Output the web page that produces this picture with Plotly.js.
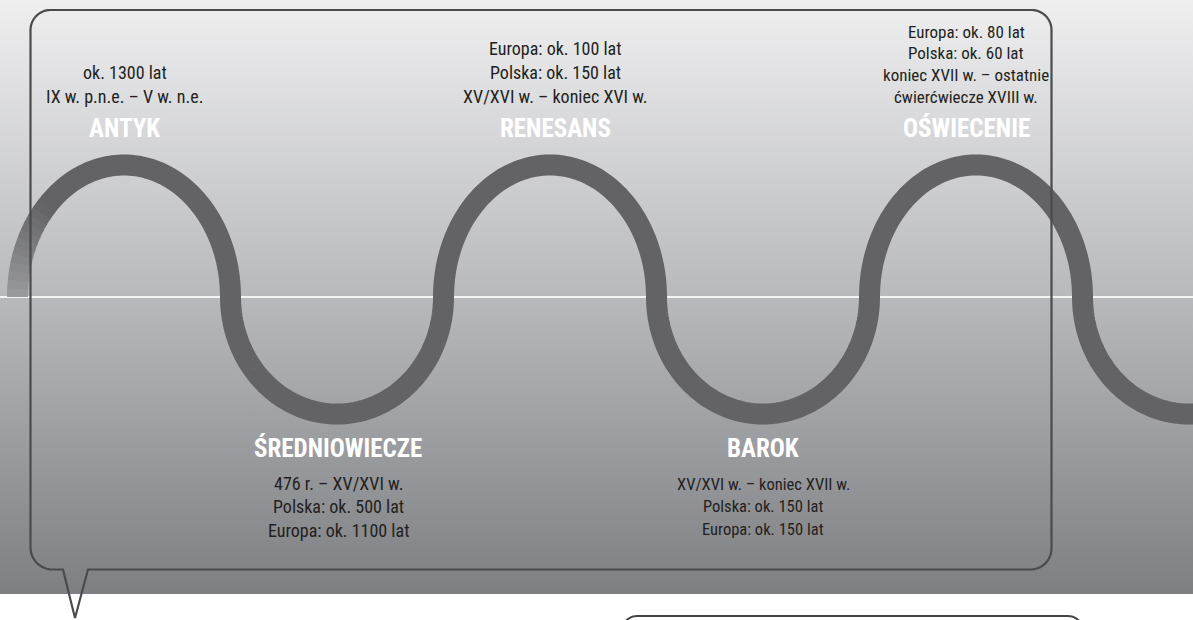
<!DOCTYPE html>
<html><head><meta charset="utf-8">
<script src="https://cdn.plot.ly/plotly-3.0.1.min.js"></script>
<style>html,body{margin:0;padding:0;background:#fff;overflow:hidden}#chart{width:1193px;height:620px}</style>
</head><body><div id="chart"></div>
<script>
// ---------- data ----------
const eras = ['ANTYK', 'ŚREDNIOWIECZE', 'RENESANS', 'BAROK', 'OŚWIECENIE'];
const eraSide = ['top', 'bottom', 'top', 'bottom', 'top'];
const eraNotes = [
  ['ok. 1300 lat', 'IX w. p.n.e. – V w. n.e.'],
  ['476 r. – XV/XVI w.', 'Polska: ok. 500 lat', 'Europa: ok. 1100 lat'],
  ['Europa: ok. 100 lat', 'Polska: ok. 150 lat', 'XV/XVI w. – koniec XVI w.'],
  ['XV/XVI w. – koniec XVII w.', 'Polska: ok. 150 lat', 'Europa: ok. 150 lat'],
  ['Europa: ok. 80 lat', 'Polska: ok. 60 lat', 'koniec XVII w. – ostatnie', 'ćwierćwiecze XVIII w.']
];

// ---------- layout geometry (pixels) ----------
const W = 1193, H = 620;
const PX0 = 124, STEP = 213, LINE_Y = 297;
const xd = px => (px - PX0) / STEP;
const yd = py => LINE_Y - py;
const TOP_H = 132, BOT_H = 117;
const labelDx = [0.5, 1.3, 5, 0, -10];
const noteSize = [18, 18, 18, 16.5, 17];
const noteGap = [24.4, 23.3, 24.2, 22.8, 21.8];
const TITLE_SIZE = 25;
const FONT = '"Roboto Condensed", "DejaVu Sans Condensed", sans-serif';
const WAVE = '#636365';

const traces = [];

// background gradient
traces.push({
  x: [xd(0), xd(W), xd(W), xd(0), xd(0)],
  y: [yd(0), yd(0), yd(594), yd(594), yd(0)],
  mode: 'lines', line: {width: 0}, fill: 'toself', hoverinfo: 'skip',
  fillgradient: {type: 'vertical', start: yd(594), stop: yd(0),
    colorscale: [[0, '#7e7f83'], [0.5, '#b8b9bd'], [1, '#efeff0']]}
});
// horizontal light line
traces.push({x: [xd(0), xd(W)], y: [0, 0], mode: 'lines',
  line: {color: '#f4f4f4', width: 2}, hoverinfo: 'skip'});

// wave: alternating semi-ellipses centred on each era
function arch(i, t0, t1, n) {
  const hgt = (i % 2 === 0) ? TOP_H : -BOT_H;
  const xs = [], ys = [];
  for (let k = 0; k <= n; k++) {
    const t = t0 + (t1 - t0) * k / n;
    xs.push(i - 0.5 * Math.cos(t));
    ys.push(hgt * Math.sin(t));
  }
  return [xs, ys];
}
// faded start of the wave
const FADE_T = 0.75, NF = 12;
function lerpCol(a, b, f) {
  const pa = [1,3,5].map(j => parseInt(a.substr(j,2),16));
  const pb = [1,3,5].map(j => parseInt(b.substr(j,2),16));
  return 'rgb(' + pa.map((v, j) => Math.round(v + (pb[j]-v)*f)).join(',') + ')';
}
for (let k = 0; k < NF; k++) {
  const [xs, ys] = arch(0, FADE_T*k/NF, FADE_T*(k+1)/NF + 0.01, 6);
  traces.push({x: xs, y: ys, mode: 'lines', hoverinfo: 'skip',
    line: {color: lerpCol('#9a9b9e', WAVE, (k+0.5)/NF), width: 21, simplify: false}});
}
{
  let X = [], Y = [];
  for (let i = 0; i <= 5; i++) {
    const [xs, ys] = arch(i, i === 0 ? FADE_T : 0, Math.PI, 90);
    X = X.concat(i === 0 ? xs : xs.slice(1));
    Y = Y.concat(i === 0 ? ys : ys.slice(1));
  }
  traces.push({x: X, y: Y, mode: 'lines', hoverinfo: 'skip',
    line: {color: WAVE, width: 21, simplify: false}});
}

// frame (speech bubble) and lower box
function corner(pts, cx, cy, r, a0, a1) {
  for (let k = 0; k <= 12; k++) {
    const a = (a0 + (a1 - a0) * k / 12) * Math.PI / 180;
    pts.push([cx + r * Math.cos(a), cy + r * Math.sin(a)]);
  }
}
const fp = [];
corner(fp, 50.5, 30, 20, 180, 270);
corner(fp, 1031.5, 30, 20, 270, 360);
corner(fp, 1030.5, 548.5, 21, 0, 90);
fp.push([88, 569.5], [75, 618], [63, 569.5]);
corner(fp, 52.5, 547.5, 22, 90, 180);
fp.push(fp[0]);
traces.push({x: fp.map(p => xd(p[0])), y: fp.map(p => yd(p[1])), mode: 'lines',
  hoverinfo: 'skip', line: {color: '#4b4b4d', width: 2.2, simplify: false}});
const bp = [];
corner(bp, 637, 631, 15, 180, 270);
corner(bp, 1068, 631, 15, 270, 360);
traces.push({x: bp.map(p => xd(p[0])), y: bp.map(p => yd(p[1])), mode: 'lines',
  hoverinfo: 'skip', line: {color: '#444446', width: 2, simplify: false}});

// ---------- labels ----------
const annotations = [];
eras.forEach((name, i) => {
  const cx = xd(PX0 + STEP * i + labelDx[i]);
  const fs = noteSize[i], gap = noteGap[i];
  const notes = eraNotes[i];
  let titleBase, baselines;
  if (eraSide[i] === 'top') {
    titleBase = 136.7;
    const last = 102.7;
    baselines = notes.map((_, j) => last - gap * (notes.length - 1 - j));
  } else {
    titleBase = 456.7;
    baselines = notes.map((_, j) => 489.8 + gap * j);
  }
  annotations.push({x: cx, y: yd(titleBase - 0.34 * TITLE_SIZE), text: name, showarrow: false,
    xanchor: 'center', yanchor: 'middle',
    font: {family: FONT, size: TITLE_SIZE, color: '#ffffff', weight: 'bold'}});
  notes.forEach((t, j) => {
    annotations.push({x: cx, y: yd(baselines[j] - 0.34 * fs), text: t, showarrow: false,
      xanchor: 'center', yanchor: 'middle',
      font: {family: FONT, size: fs, color: '#231f20'}});
  });
});

const layout = {
  width: W, height: H, margin: {l: 0, r: 0, t: 0, b: 0},
  paper_bgcolor: '#ffffff', plot_bgcolor: '#ffffff', showlegend: false,
  xaxis: {range: [xd(0), xd(W)], visible: false, fixedrange: true},
  yaxis: {range: [yd(H), yd(0)], visible: false, fixedrange: true},
  annotations: annotations
};
Plotly.newPlot('chart', traces, layout, {displayModeBar: false, staticPlot: true});
</script></body></html>
